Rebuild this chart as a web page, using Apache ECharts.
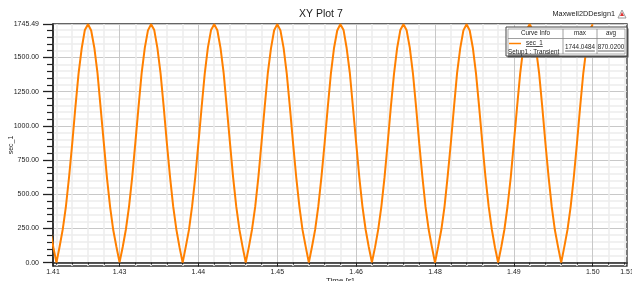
<!DOCTYPE html>
<html>
<head>
<meta charset="utf-8">
<script src="https://cdn.jsdelivr.net/npm/echarts@6/dist/echarts.min.js"></script>
<style>
  html, body { margin: 0; padding: 0; background: #ffffff; }
  #chart { width: 632px; height: 281px; }
</style>
</head>
<body>
<div id="chart"></div>
<script>
// ---------------- data ----------------
const chartTitle = 'XY Plot 7';
const designName = 'Maxwell2DDesign1';
const seriesName = 'sec_1';
const setupName = 'Setup1 : Transient';
const curveMax = '1744.0484';
const curveAvg = '870.0200';

// sample times: first sample and time step [s]
const timeStart = 1.4140;
const timeStep = 0.0005;

// sec_1 values (one value per time step)
const sec1Values = [
  240, 112,
  0, 118, 245, 412, 628, 872, 1138, 1382, 1568, 1702, 1744, 1698, 1572, 1388, 1132, 878, 622, 408, 238, 116,
  2, 114, 242, 410, 624, 876, 1136, 1386, 1571, 1699, 1744, 1701, 1569, 1384, 1137, 873, 627, 411, 243, 113,
  0, 117, 239, 413, 626, 874, 1133, 1383, 1573, 1701, 1743, 1700, 1570, 1386, 1134, 876, 623, 409, 241, 115,
  1, 115, 244, 409, 623, 877, 1137, 1387, 1567, 1700, 1744, 1699, 1571, 1383, 1136, 874, 626, 412, 239, 117,
  0, 116, 241, 411, 627, 873, 1135, 1385, 1572, 1698, 1744, 1702, 1568, 1387, 1133, 877, 624, 410, 242, 114,
  2, 113, 243, 412, 625, 875, 1139, 1381, 1570, 1701, 1743, 1700, 1573, 1385, 1138, 872, 628, 407, 240, 116,
  0, 118, 240, 408, 629, 871, 1134, 1388, 1569, 1699, 1744, 1698, 1570, 1382, 1135, 875, 625, 413, 244, 112,
  1, 114, 242, 414, 622, 878, 1136, 1384, 1574, 1702, 1744, 1701, 1567, 1386, 1139, 873, 627, 409, 238, 115,
  0, 117, 241, 410, 626, 874, 1137, 1385, 1571, 1700, 1744
];

// axis ranges
const xMin = 1.41445;
const xMax = 1.50543;
const yMin = -25;
const yMax = 1745.49;

// x axis ticks and labels
const xLabelValues = [1.41445, 1.425, 1.4375, 1.45, 1.4625, 1.475, 1.4875, 1.5, 1.50543];
const xTickLabels  = ['1.41', '1.43', '1.44', '1.45', '1.46', '1.48', '1.49', '1.50', '1.51'];
const xMajorTicks  = [1.425, 1.4375, 1.45, 1.4625, 1.475, 1.4875, 1.5];
const xMinorTicks  = [1.415, 1.4175, 1.42, 1.4225,
                      1.4275, 1.43, 1.4325, 1.435,
                      1.44, 1.4425, 1.445, 1.4475,
                      1.4525, 1.455, 1.4575, 1.46,
                      1.465, 1.4675, 1.47, 1.4725,
                      1.4775, 1.48, 1.4825, 1.485,
                      1.49, 1.4925, 1.495, 1.4975,
                      1.5025, 1.505];

// y axis ticks and labels
const yLabelValues = [0, 250, 500, 750, 1000, 1250, 1500, 1745.49];
const yTickLabels  = ['0.00', '250.00', '500.00', '750.00', '1000.00', '1250.00', '1500.00', '1745.49'];
const yMajorTicks  = [0, 250, 500, 750, 1000, 1250, 1500, 1745.49];
const yMinorTicks  = [50, 100, 150, 200, 300, 350, 400, 450, 550, 600, 650, 700,
                      800, 850, 900, 950, 1050, 1100, 1150, 1200, 1300, 1350, 1400, 1450,
                      1550, 1600, 1650, 1700];

// ---------------- chart ----------------
const seriesData = sec1Values.map((v, i) => [timeStart + i * timeStep, v]);

function labelFor(values, labels) {
  return function (v) {
    for (let i = 0; i < values.length; i++) {
      if (Math.abs(values[i] - v) < 1e-6) return labels[i];
    }
    return '';
  };
}

const chart = echarts.init(document.getElementById('chart'), null, { renderer: 'canvas' });

const FONT = 'Liberation Sans, Arial, sans-serif';
const measureCtx = document.createElement('canvas').getContext('2d');
function textWidth(txt, size) {
  measureCtx.font = size + 'px ' + FONT;
  return measureCtx.measureText(txt).width;
}

const LX = 506, LY = 27, LW = 121, LH = 29;
const C1 = 563, C2 = 597, ROW = 38.5;
const lf = 6.3;
function underline(cx, y, txt, align) {
  const w = textWidth(txt, lf);
  const x0 = align === 'center' ? cx - w / 2 : cx;
  return { type: 'line', shape: { x1: x0, y1: y, x2: x0 + w, y2: y }, style: { stroke: '#222', lineWidth: 0.7 }, z: 101 };
}
function ltext(x, y, txt, align) {
  return { type: 'text', x: x, y: y, z: 101,
    style: { text: txt, font: lf + 'px ' + FONT, fill: '#222', align: align, verticalAlign: 'middle' } };
}

const legendGraphics = [
  { type: 'rect', shape: { x: LX + 1.5, y: LY + 1.5, width: LW, height: LH }, style: { fill: '#555' }, z: 99 },
  { type: 'rect', shape: { x: LX, y: LY, width: LW, height: LH }, style: { fill: '#fff', stroke: '#444', lineWidth: 1 }, z: 100 },
  { type: 'rect', shape: { x: LX + 2, y: LY + 2, width: LW - 4, height: LH - 4 }, style: { fill: 'none', stroke: '#888', lineWidth: 0.7 }, z: 100 },
  { type: 'line', shape: { x1: C1, y1: LY + 2, x2: C1, y2: LY + LH - 2 }, style: { stroke: '#888', lineWidth: 0.8 }, z: 100 },
  { type: 'line', shape: { x1: C2, y1: LY + 2, x2: C2, y2: LY + LH - 2 }, style: { stroke: '#888', lineWidth: 0.8 }, z: 100 },
  { type: 'line', shape: { x1: LX + 2, y1: ROW, x2: LX + LW - 2, y2: ROW }, style: { stroke: '#888', lineWidth: 0.8 }, z: 100 },
  ltext((LX + 2 + C1) / 2, 33, 'Curve Info', 'center'),
  ltext((C1 + C2) / 2, 33, 'max', 'center'),
  ltext((C2 + LX + LW - 2) / 2, 33, 'avg', 'center'),
  { type: 'line', shape: { x1: 509, y1: 43.5, x2: 521, y2: 43.5 }, style: { stroke: '#ff8000', lineWidth: 1.5 }, z: 101 },
  ltext(526, 43, seriesName, 'left'),
  underline(526, 46.5, seriesName, 'left'),
  ltext(508, 52, setupName, 'left'),
  underline(508, 55, setupName, 'left'),
  ltext((C1 + C2) / 2, 47.5, curveMax, 'center'),
  underline((C1 + C2) / 2, 51, curveMax, 'center'),
  ltext((C2 + LX + LW - 2) / 2, 47.5, curveAvg, 'center'),
  underline((C2 + LX + LW - 2) / 2, 51, curveAvg, 'center')
];

const option = {
  animation: false,
  backgroundColor: '#ffffff',
  textStyle: { fontFamily: FONT },
  title: {
    text: chartTitle,
    left: 294, top: 4,
    textStyle: { fontSize: 10.5, fontWeight: 'normal', color: '#222', fontFamily: FONT }
  },
  graphic: [
    { type: 'text', right: 17, top: 10, z: 100,
      style: { text: designName, font: '7.3px ' + FONT, fill: '#222' } },
    { type: 'polygon', z: 100, shape: { points: [[622, 10], [618, 18], [626, 18]] },
      style: { fill: 'none', stroke: '#999', lineWidth: 1 } },
    { type: 'polygon', z: 100, shape: { points: [[622, 12], [620, 16], [624, 16]] },
      style: { fill: '#d33', stroke: 'none' } }
  ].concat(legendGraphics),
  grid: {
    left: 53, right: 5, top: 24, bottom: 15,
    outerBoundsMode: 'none', containLabel: false,
    show: true, borderColor: '#333', borderWidth: 1.3, backgroundColor: 'transparent'
  },
  xAxis: [
    {
      type: 'value', min: xMin, max: xMax, position: 'bottom',
      name: 'Time [s]', nameLocation: 'middle', nameGap: 11, nameMoveOverlap: false,
      nameTextStyle: { fontSize: 8, color: '#222', verticalAlign: 'top' },
      axisLine: { show: true, lineStyle: { color: '#222', width: 1.5 } },
      axisTick: { show: true, customValues: xMajorTicks, length: 4, lineStyle: { color: '#222', width: 1 } },
      axisLabel: { customValues: xLabelValues, formatter: labelFor(xLabelValues, xTickLabels),
        fontSize: 7, color: '#222', margin: 3, showMinLabel: true, showMaxLabel: true, hideOverlap: false },
      splitLine: { show: true, lineStyle: { color: '#c8c8c8', width: 1 } }
    },
    {
      type: 'value', min: xMin, max: xMax, position: 'bottom',
      axisLine: { show: false },
      axisTick: { show: true, customValues: xMinorTicks, length: 2, lineStyle: { color: '#222', width: 1 } },
      axisLabel: { show: false },
      splitLine: { show: true, lineStyle: { color: '#ececec', width: 1.5 } }
    }
  ],
  yAxis: [
    {
      type: 'value', min: yMin, max: yMax, position: 'left',
      name: seriesName, nameLocation: 'middle', nameGap: 38, nameRotate: 90, nameMoveOverlap: false,
      nameTextStyle: { fontSize: 7, color: '#222' },
      axisLine: { show: true, lineStyle: { color: '#222', width: 1.5 } },
      axisTick: { show: true, customValues: yMajorTicks, length: 10, lineStyle: { color: '#222', width: 1.3 } },
      axisLabel: { customValues: yLabelValues, formatter: labelFor(yLabelValues, yTickLabels),
        fontSize: 7, color: '#222', margin: 14, hideOverlap: false },
      splitLine: { show: true, lineStyle: { color: '#c8c8c8', width: 1 } }
    },
    {
      type: 'value', min: yMin, max: yMax, position: 'left',
      axisLine: { show: false },
      axisTick: { show: true, customValues: yMinorTicks, length: 6, lineStyle: { color: '#222', width: 1.2 } },
      axisLabel: { show: false },
      splitLine: { show: true, lineStyle: { color: '#ececec', width: 1.5 } }
    }
  ],
  series: [
    {
      name: seriesName, type: 'line', xAxisIndex: 0, yAxisIndex: 0,
      data: seriesData, showSymbol: false, symbol: 'none',
      lineStyle: { color: '#ff8000', width: 2 },
      itemStyle: { color: '#ff8000' }, z: 10
    }
  ]
};

chart.setOption(option);
</script>
</body>
</html>
